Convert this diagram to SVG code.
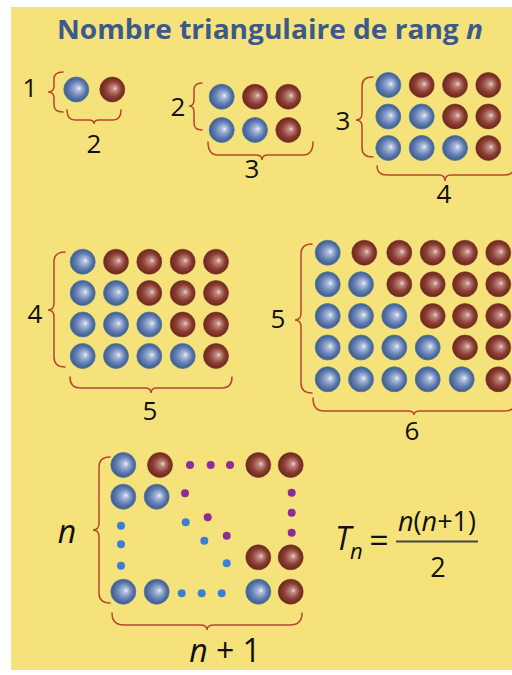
<svg xmlns="http://www.w3.org/2000/svg" width="512" height="675" viewBox="0 0 512 675">
<defs>
<radialGradient id="gb" cx="0.5" cy="0.5" r="0.5" fx="0.62" fy="0.45">
<stop offset="0" stop-color="#eef2fa"/>
<stop offset="0.2" stop-color="#adbddb"/>
<stop offset="0.62" stop-color="#6580b4"/>
<stop offset="1" stop-color="#3c598c"/>
</radialGradient>
<radialGradient id="gr" cx="0.5" cy="0.5" r="0.5" fx="0.62" fy="0.45">
<stop offset="0" stop-color="#eed8d1"/>
<stop offset="0.2" stop-color="#c08880"/>
<stop offset="0.62" stop-color="#8e3f35"/>
<stop offset="1" stop-color="#69261e"/>
</radialGradient>
</defs>
<style>
.b{fill:url(#gb);stroke:#4f7f98;stroke-width:0.8}
.r{fill:url(#gr);stroke:#7a3a28;stroke-width:0.6}
.pd{fill:#8c2c98}
.bd{fill:#3a80d2}
.br{fill:none;stroke:#b8462f;stroke-width:1.5;stroke-linecap:round}
.num{font-family:"Open Sans","Liberation Sans",sans-serif;font-size:26px;fill:#111;text-anchor:middle}
.big{font-size:32px}
.it{font-style:italic}
.title{font-family:"Open Sans","Liberation Sans",sans-serif;font-size:26px;font-weight:bold;fill:#3b5a8a}
</style>
<rect x="0" y="0" width="512" height="675" fill="#ffffff"/>
<rect x="11" y="7" width="501" height="663" fill="#f6e27a"/>

<g id="title">
<text class="title" x="57" y="39" textLength="426" lengthAdjust="spacingAndGlyphs">Nombre triangulaire de rang <tspan font-style="italic">n</tspan></text>
</g>

<g id="braces">
<path class="br" d="M63,72 Q54,72 54,79 L54,86 Q54,92 48,92 Q54,92 54,98 L54,105 Q54,112 63,112"/>
<path class="br" d="M67,110 Q67,120 75,120 L89,120 Q94,120 94,124 Q94,120 99,120 L113,120 Q121,120 121,110"/>
<path class="br" d="M202,83 Q194,83 194,90 L194,100 Q194,106 189,106 Q194,106 194,112 L194,123 Q194,130 202,130"/>
<path class="br" d="M208,142 Q208,155 218,155 L256,155 Q262,155 262,160 Q262,155 268,155 L303,155 Q313,155 313,142"/>
<path class="br" d="M373,77 Q362,77 362,86 L362,113 Q362,120 356,120 Q362,120 362,127 L362,148 Q362,157 373,157"/>
<path class="br" d="M377,166 Q377,175 387,175 L439,175 Q445,175 445,181 Q445,175 451,175 L505,175 Q514,175 514,166"/>
<path class="br" d="M65,252 Q54,252 54,262 L54,303 Q54,310 48,310 Q54,310 54,317 L54,357 Q54,367 65,367"/>
<path class="br" d="M70,377 Q70,388 80,388 L145,388 Q151,388 151,393 Q151,388 157,388 L222,388 Q232,388 232,377"/>
<path class="br" d="M312,244 Q301,244 301,254 L301,313 Q301,320 295,320 Q301,320 301,327 L301,383 Q301,393 312,393"/>
<path class="br" d="M313,398 Q313,411 324,411 L408,411 Q414,411 414,415 Q414,411 420,411 L505,411 Q516,411 516,398"/>
<path class="br" d="M110,457 Q99,457 99,467 L99,523 Q99,530 93,530 Q99,530 99,537 L99,593 Q99,603 110,603"/>
<path class="br" d="M112,613 Q112,625 124,625 L200,625 Q207,625 207,630 Q207,625 214,625 L290,625 Q302,625 302,613"/>
</g>

<g id="fig1">
<circle class="b" cx="76.3" cy="89.5" r="12.5"/>
<circle class="r" cx="112.3" cy="89.5" r="12.5"/>
<text class="num" x="30" y="97">1</text>
<text class="num" x="94" y="153">2</text>
</g>

<g id="fig2">
<circle class="b" cx="221.7" cy="96.7" r="12.5"/>
<circle class="r" cx="255" cy="96.7" r="12.5"/>
<circle class="r" cx="288.3" cy="96.7" r="12.5"/>
<circle class="b" cx="221.7" cy="130" r="12.5"/>
<circle class="b" cx="255" cy="130" r="12.5"/>
<circle class="r" cx="288.3" cy="130" r="12.5"/>
<text class="num" x="178" y="116">2</text>
<text class="num" x="252" y="178">3</text>
</g>

<g id="fig3">
<circle class="b" cx="388.3" cy="85" r="12.5"/>
<circle class="r" cx="421.7" cy="85" r="12.5"/>
<circle class="r" cx="455" cy="85" r="12.5"/>
<circle class="r" cx="488.3" cy="85" r="12.5"/>
<circle class="b" cx="388.3" cy="116.5" r="12.5"/>
<circle class="b" cx="421.7" cy="116.5" r="12.5"/>
<circle class="r" cx="455" cy="116.5" r="12.5"/>
<circle class="r" cx="488.3" cy="116.5" r="12.5"/>
<circle class="b" cx="388.3" cy="148" r="12.5"/>
<circle class="b" cx="421.7" cy="148" r="12.5"/>
<circle class="b" cx="455" cy="148" r="12.5"/>
<circle class="r" cx="488.3" cy="148" r="12.5"/>
<text class="num" x="343" y="130">3</text>
<text class="num" x="444" y="203">4</text>
</g>

<g id="fig4">
<circle class="b" cx="82.7" cy="261.7" r="12.5"/>
<circle class="r" cx="116" cy="261.7" r="12.5"/>
<circle class="r" cx="149.3" cy="261.7" r="12.5"/>
<circle class="r" cx="182.7" cy="261.7" r="12.5"/>
<circle class="r" cx="216" cy="261.7" r="12.5"/>
<circle class="b" cx="82.7" cy="293" r="12.5"/>
<circle class="b" cx="116" cy="293" r="12.5"/>
<circle class="r" cx="149.3" cy="293" r="12.5"/>
<circle class="r" cx="182.7" cy="293" r="12.5"/>
<circle class="r" cx="216" cy="293" r="12.5"/>
<circle class="b" cx="82.7" cy="324.5" r="12.5"/>
<circle class="b" cx="116" cy="324.5" r="12.5"/>
<circle class="b" cx="149.3" cy="324.5" r="12.5"/>
<circle class="r" cx="182.7" cy="324.5" r="12.5"/>
<circle class="r" cx="216" cy="324.5" r="12.5"/>
<circle class="b" cx="82.7" cy="356" r="12.5"/>
<circle class="b" cx="116" cy="356" r="12.5"/>
<circle class="b" cx="149.3" cy="356" r="12.5"/>
<circle class="b" cx="182.7" cy="356" r="12.5"/>
<circle class="r" cx="216" cy="356" r="12.5"/>
<text class="num" x="35" y="323">4</text>
<text class="num" x="150" y="420">5</text>
</g>

<g id="fig5">
<circle class="b" cx="327.7" cy="252.7" r="12.5"/>
<circle class="r" cx="364.3" cy="252.7" r="12.5"/>
<circle class="r" cx="399.3" cy="252.7" r="12.5"/>
<circle class="r" cx="432.7" cy="252.7" r="12.5"/>
<circle class="r" cx="465" cy="252.7" r="12.5"/>
<circle class="r" cx="498.3" cy="252.7" r="12.5"/>
<circle class="b" cx="327.7" cy="284.3" r="12.5"/>
<circle class="b" cx="361" cy="284.3" r="12.5"/>
<circle class="r" cx="399.3" cy="284.3" r="12.5"/>
<circle class="r" cx="432.7" cy="284.3" r="12.5"/>
<circle class="r" cx="465" cy="284.3" r="12.5"/>
<circle class="r" cx="498.3" cy="284.3" r="12.5"/>
<circle class="b" cx="327.7" cy="316" r="12.5"/>
<circle class="b" cx="361" cy="316" r="12.5"/>
<circle class="b" cx="394.3" cy="316" r="12.5"/>
<circle class="r" cx="432.7" cy="316" r="12.5"/>
<circle class="r" cx="465" cy="316" r="12.5"/>
<circle class="r" cx="498.3" cy="316" r="12.5"/>
<circle class="b" cx="327.7" cy="347.5" r="12.5"/>
<circle class="b" cx="361" cy="347.5" r="12.5"/>
<circle class="b" cx="394.3" cy="347.5" r="12.5"/>
<circle class="b" cx="427.7" cy="347.5" r="12.5"/>
<circle class="r" cx="465" cy="347.5" r="12.5"/>
<circle class="r" cx="498.3" cy="347.5" r="12.5"/>
<circle class="b" cx="327.7" cy="379.3" r="12.5"/>
<circle class="b" cx="361" cy="379.3" r="12.5"/>
<circle class="b" cx="394.3" cy="379.3" r="12.5"/>
<circle class="b" cx="427.7" cy="379.3" r="12.5"/>
<circle class="b" cx="461.7" cy="379.3" r="12.5"/>
<circle class="r" cx="498.3" cy="379.3" r="12.5"/>
<text class="num" x="278" y="328">5</text>
<text class="num" x="412" y="440">6</text>
</g>

<g id="general">
<circle class="b" cx="123.3" cy="465" r="12.5"/>
<circle class="r" cx="160" cy="465" r="12.5"/>
<circle class="pd" cx="190" cy="465" r="4"/>
<circle class="pd" cx="210.7" cy="465" r="4"/>
<circle class="pd" cx="230" cy="465" r="4"/>
<circle class="r" cx="258.3" cy="465" r="12.5"/>
<circle class="r" cx="290.7" cy="465" r="12.5"/>
<circle class="b" cx="123.3" cy="496.7" r="12.5"/>
<circle class="b" cx="156.7" cy="496.7" r="12.5"/>
<circle class="pd" cx="185" cy="493.3" r="4"/>
<circle class="pd" cx="207.7" cy="517.3" r="4"/>
<circle class="pd" cx="226.7" cy="535.7" r="4"/>
<circle class="pd" cx="291.7" cy="492.7" r="4"/>
<circle class="pd" cx="291.7" cy="512.7" r="4"/>
<circle class="pd" cx="291.7" cy="532.7" r="4"/>
<circle class="bd" cx="121" cy="525.7" r="4"/>
<circle class="bd" cx="121" cy="544.3" r="4"/>
<circle class="bd" cx="121" cy="565.7" r="4"/>
<circle class="bd" cx="185.7" cy="522.3" r="4"/>
<circle class="bd" cx="204.3" cy="540.7" r="4"/>
<circle class="bd" cx="226.7" cy="563.3" r="4"/>
<circle class="r" cx="258.3" cy="557.3" r="12.5"/>
<circle class="r" cx="290.7" cy="557.3" r="12.5"/>
<circle class="b" cx="123.3" cy="591.7" r="12.5"/>
<circle class="b" cx="156.7" cy="591.7" r="12.5"/>
<circle class="bd" cx="181.7" cy="593.3" r="4"/>
<circle class="bd" cx="201.7" cy="593.3" r="4"/>
<circle class="bd" cx="221.7" cy="593.3" r="4"/>
<circle class="b" cx="258.3" cy="591.7" r="12.5"/>
<circle class="r" cx="290.7" cy="591.7" r="12.5"/>
<text class="num big it" x="67" y="543">n</text>
<text class="num big" x="225" y="662"><tspan font-style="italic">n</tspan> + 1</text>
</g>

<g id="formula" font-family="'Open Sans','Liberation Sans',sans-serif" fill="#111">
<text x="335" y="550" font-size="32" font-style="italic">T</text>
<text x="350" y="559" font-size="22" font-style="italic">n</text>
<text x="379" y="553" font-size="34" text-anchor="middle">=</text>
<line x1="396" y1="541.5" x2="478" y2="541.5" stroke="#444" stroke-width="2.2"/>
<text x="437" y="531" font-size="27" text-anchor="middle"><tspan font-style="italic">n</tspan>(<tspan font-style="italic">n</tspan>+1)</text>
<text x="438" y="577" font-size="27" text-anchor="middle">2</text>
</g>
</svg>
